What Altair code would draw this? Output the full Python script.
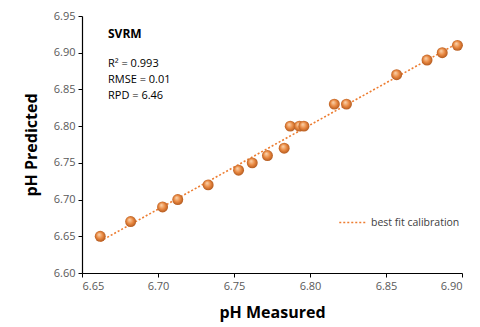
import altair as alt
import pandas as pd

measured = [6.662, 6.682, 6.703, 6.713, 6.733, 6.753, 6.762, 6.772, 6.783, 6.787,
            6.793, 6.796, 6.816, 6.824, 6.857, 6.877, 6.887, 6.897]
predicted = [6.65, 6.67, 6.69, 6.70, 6.72, 6.74, 6.75, 6.76, 6.77, 6.80,
             6.80, 6.80, 6.83, 6.83, 6.87, 6.89, 6.90, 6.91]
x_ticks = [6.65, 6.70, 6.75, 6.80, 6.85, 6.90]
y_ticks = [6.60, 6.65, 6.70, 6.75, 6.80, 6.85, 6.90, 6.95]
stats_lines = ["R² = 0.993", "RMSE = 0.01", "RPD = 6.46"]
model_name = "SVRM"
fit_label = "best fit calibration"

df = pd.DataFrame({"measured": measured, "predicted": predicted})

FONT = "Open Sans"
xs = alt.Scale(domain=[6.65, 6.90], nice=False, zero=False)
ys = alt.Scale(domain=[6.60, 6.95], nice=False, zero=False)

x_axis = alt.Axis(values=x_ticks, format=".2f", title="pH Measured",
                  titleFontSize=16, titleFontWeight="bold", titlePadding=13,
                  titleColor="#000000", labelOverlap=False)
y_axis = alt.Axis(values=y_ticks, format=".2f", title="pH Predicted",
                  titleFontSize=16, titleFontWeight="bold", titlePadding=14,
                  titleColor="#000000", labelOverlap=False)

base = alt.Chart(df)

grad = alt.RadialGradient(
    gradient="radial",
    stops=[alt.GradientStop(color="#FCD9B4", offset=0),
           alt.GradientStop(color="#E8863E", offset=0.55),
           alt.GradientStop(color="#A9531B", offset=1)],
    x1=0.38, y1=0.32, r1=0, x2=0.5, y2=0.5, r2=0.55,
)

pts = base.mark_point(filled=True, size=120, fill=grad, opacity=1, strokeWidth=0).encode(
    x=alt.X("measured:Q", scale=xs, axis=x_axis),
    y=alt.Y("predicted:Q", scale=ys, axis=y_axis),
)

fit = base.transform_regression("measured", "predicted").transform_calculate(
    series=f"'{fit_label}'"
).mark_line(strokeDash=[2, 2], strokeWidth=1.6).encode(
    x=alt.X("measured:Q", scale=xs, axis=x_axis),
    y=alt.Y("predicted:Q", scale=ys, axis=y_axis),
    color=alt.Color("series:N", scale=alt.Scale(range=["#ED7D31"]),
                    legend=alt.Legend(title=None, orient="none", legendX=256, legendY=192,
                                      symbolType="stroke", symbolDash=[2, 2],
                                      symbolStrokeWidth=1.6, symbolSize=700,
                                      labelFont=FONT, labelFontSize=10.5,
                                      labelColor="#404040", labelOffset=4)),
)

title_txt = alt.Chart(pd.DataFrame({"t": [model_name]})).mark_text(
    align="left", baseline="middle", font=FONT, fontSize=12, fontWeight="bold", color="#000000"
).encode(text="t:N", x=alt.value(26), y=alt.value(18))

stats_txt = alt.Chart(pd.DataFrame({"t": ["\n".join(stats_lines)]})).mark_text(
    align="left", baseline="top", font=FONT, fontSize=11, color="#000000",
    lineBreak="\n", lineHeight=16,
).encode(text="t:N", x=alt.value(26), y=alt.value(42))

chart = alt.layer(fit, pts, title_txt, stats_txt).properties(
    width=380, height=257,
    autosize=alt.AutoSizeParams(type="none"),
    padding={"left": 74, "top": 8, "right": 10, "bottom": 54},
).configure_view(stroke=None).configure_axis(
    grid=False, domainColor="#000000", tickColor="#000000", domainWidth=1.2,
    tickSize=4, labelFont=FONT, titleFont=FONT, labelFontSize=11,
    labelColor="#595959", labelPadding=3, labelOverlap=False,
)

chart.save("out.html", embed_options={"renderer": "svg", "actions": False})
